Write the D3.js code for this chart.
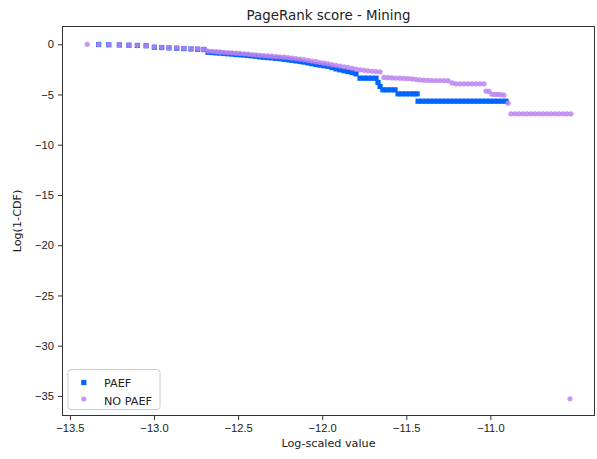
<!DOCTYPE html>
<html>
<head>
<meta charset="utf-8">
<script src="https://cdn.jsdelivr.net/npm/d3@7.9.0/dist/d3.min.js"></script>
<style>
  html, body { margin: 0; padding: 0; background: #fff; }
  svg { display: block; font-family: "DejaVu Sans", sans-serif; }
  .tick text { font-size: 11.2px; fill: #222; }
  .tick line { stroke: #333; }
</style>
</head>
<body>
<svg id="chart" width="597" height="459"></svg>
<script>
// data
const xTicks = [-13.5, -13.0, -12.5, -12.0, -11.5, -11.0];
const yTicks = [0, -5, -10, -15, -20, -25, -30, -35];

const paefX = [-13.329, -13.269, -13.206, -13.149, -13.099, -13.047, -12.998, -12.954, -12.911, -12.865, -12.822, -12.780, -12.740, -12.703,
  -12.679, -12.655, -12.631, -12.608, -12.584, -12.560, -12.536, -12.513, -12.489, -12.465,
  -12.441, -12.417, -12.394, -12.370, -12.346, -12.322, -12.299, -12.275, -12.251, -12.227,
  -12.203, -12.180, -12.156, -12.132, -12.108, -12.084, -12.061, -12.037, -12.013, -11.989,
  -11.966, -11.942, -11.918, -11.894, -11.870, -11.847, -11.823, -11.799,
  -11.775, -11.752, -11.728, -11.704, -11.680, -11.668, -11.656,
  -11.639, -11.615, -11.591, -11.567,
  -11.549, -11.526, -11.502, -11.478, -11.454, -11.436,
  -11.430, -11.407, -11.383, -11.359, -11.335, -11.311, -11.288, -11.264, -11.240, -11.216, -11.192, -11.169,
  -11.145, -11.121, -11.097, -11.074, -11.050, -11.026, -11.002, -10.978, -10.955, -10.931, -10.907];
const paefY = [-0.03, -0.05, -0.07, -0.10, -0.12, -0.15, -0.30, -0.33, -0.36, -0.40, -0.43, -0.47, -0.50, -0.53,
  -0.80, -0.83, -0.86, -0.88, -0.92, -0.95, -0.98, -1.02, -1.05, -1.08,
  -1.12, -1.16, -1.20, -1.26, -1.30, -1.33, -1.36, -1.40, -1.44, -1.50,
  -1.55, -1.60, -1.66, -1.72, -1.78, -1.86, -1.94, -2.02, -2.08, -2.14,
  -2.20, -2.32, -2.45, -2.55, -2.64, -2.72, -2.82, -2.95,
  -3.38, -3.38, -3.38, -3.38, -3.38, -3.80, -4.20,
  -4.54, -4.54, -4.54, -4.54,
  -4.94, -4.94, -4.94, -4.94, -4.94, -4.94,
  -5.67, -5.67, -5.67, -5.67, -5.67, -5.67, -5.67, -5.67, -5.67, -5.67, -5.67, -5.67,
  -5.67, -5.67, -5.67, -5.67, -5.67, -5.67, -5.67, -5.67, -5.67, -5.67, -5.67];

const noPaefX = [-13.397, -13.329, -13.269, -13.206, -13.149, -13.099, -13.047, -12.998, -12.954, -12.911, -12.865, -12.822, -12.780, -12.740, -12.703,
  -12.679, -12.655, -12.631, -12.608, -12.584, -12.560, -12.536, -12.513, -12.489, -12.465,
  -12.441, -12.417, -12.394, -12.370, -12.346, -12.322, -12.299, -12.275, -12.251, -12.227,
  -12.203, -12.180, -12.156, -12.132, -12.108, -12.084, -12.061, -12.037, -12.013, -11.989,
  -11.966, -11.942, -11.918, -11.894, -11.870, -11.847, -11.823, -11.799,
  -11.775, -11.752, -11.728, -11.704, -11.680, -11.656,
  -11.633, -11.609, -11.585, -11.561, -11.538, -11.514, -11.490, -11.466, -11.442,
  -11.419, -11.395, -11.371, -11.347, -11.323, -11.300, -11.276, -11.252,
  -11.228, -11.205, -11.181, -11.157, -11.133, -11.109, -11.086, -11.062, -11.038,
  -11.026, -11.008, -10.991, -10.973, -10.955, -10.937, -10.919, -10.895,
  -10.878, -10.854, -10.830, -10.806, -10.782, -10.759, -10.735, -10.711,
  -10.687, -10.664, -10.640, -10.616, -10.592, -10.568, -10.545, -10.521,
  -10.527];
const noPaefY = [0, -0.02, -0.04, -0.06, -0.09, -0.11, -0.14, -0.28, -0.31, -0.34, -0.37, -0.40, -0.43, -0.46, -0.49,
  -0.68, -0.71, -0.74, -0.77, -0.80, -0.83, -0.86, -0.89, -0.92, -0.95,
  -0.98, -1.02, -1.06, -1.10, -1.13, -1.16, -1.19, -1.22, -1.25, -1.29,
  -1.33, -1.38, -1.43, -1.48, -1.54, -1.60, -1.67, -1.74, -1.82, -1.89,
  -1.96, -2.03, -2.10, -2.17, -2.24, -2.31, -2.39, -2.47,
  -2.54, -2.60, -2.65, -2.69, -2.72, -2.76,
  -3.30, -3.33, -3.35, -3.37, -3.38, -3.40, -3.42, -3.45, -3.50,
  -3.55, -3.58, -3.60, -3.61, -3.61, -3.62, -3.62, -3.63,
  -3.85, -3.94, -3.94, -3.94, -3.94, -3.94, -3.94, -3.94, -3.94,
  -4.66, -4.70, -4.98, -5.00, -5.00, -5.02, -5.05, -5.87,
  -6.93, -6.93, -6.93, -6.93, -6.93, -6.93, -6.93, -6.93,
  -6.93, -6.93, -6.93, -6.93, -6.93, -6.93, -6.93, -6.93,
  -35.28];

const seriesNames = ["PAEF", "NO PAEF"];
const seriesColors = ["#0066ff", "#bd82f2"];

const svg = d3.select("#chart");
const axL = 62.5, axR = 594.5, axT = 26.5, axB = 415.5;

svg.append("rect").attr("width", 597).attr("height", 459).attr("fill", "#fff");

const x = d3.scaleLinear().domain([-13.544, -10.381]).range([axL, axR]);
const y = d3.scaleLinear().domain([1.764, -37.044]).range([axT, axB + 1]);

const fmt = d => (d < 0 ? "\u2212" : "") + Math.abs(d);

// axes
svg.append("g")
  .attr("transform", `translate(0,${axB})`)
  .call(d3.axisBottom(x).tickValues(xTicks).tickSizeOuter(0).tickSize(4.5).tickPadding(4)
    .tickFormat(d => (d < 0 ? "\u2212" : "") + Math.abs(d).toFixed(1)))
  .call(g => g.select(".domain").remove());

svg.append("g")
  .attr("transform", `translate(${axL},0)`)
  .call(d3.axisLeft(y).tickValues(yTicks).tickSizeOuter(0).tickSize(4.5).tickPadding(4).tickFormat(fmt))
  .call(g => g.select(".domain").remove());

// points
const paef = paefX.map((v, i) => [v, paefY[i]]);
const noPaef = noPaefX.map((v, i) => [v, noPaefY[i]]);

svg.append("g").selectAll("rect").data(paef).join("rect")
  .attr("x", d => x(d[0]) - 2.6)
  .attr("y", d => y(d[1]) - 2.6)
  .attr("width", 5.2).attr("height", 5.2)
  .attr("fill", seriesColors[0]);

svg.append("g").selectAll("circle").data(noPaef).join("circle")
  .attr("cx", d => x(d[0]))
  .attr("cy", d => y(d[1]))
  .attr("r", 2.6)
  .attr("fill", seriesColors[1])
  .attr("fill-opacity", 0.85);

// frame
svg.append("rect")
  .attr("x", axL).attr("y", axT)
  .attr("width", axR - axL).attr("height", axB - axT)
  .attr("fill", "none").attr("stroke", "#333").attr("stroke-width", 1);

// legend
const lg = svg.append("g").attr("transform", "translate(68,369.5)");
lg.append("rect").attr("width", 92).attr("height", 40).attr("rx", 3)
  .attr("fill", "#fff").attr("fill-opacity", 0.8).attr("stroke", "#ccc");
lg.append("rect").attr("x", 13.2).attr("y", 10.4).attr("width", 5.2).attr("height", 5.2).attr("fill", seriesColors[0]);
lg.append("circle").attr("cx", 15.8).attr("cy", 29.5).attr("r", 2.6).attr("fill", seriesColors[1]).attr("fill-opacity", 0.85);
seriesNames.forEach((n, i) => {
  lg.append("text").attr("x", 36).attr("y", 17 + i * 18.5)
    .attr("font-size", 11.2).attr("fill", "#222").text(n);
});

// titles
svg.append("text").attr("x", (axL + axR) / 2).attr("y", 19.5)
  .attr("text-anchor", "middle").attr("font-size", 13.4).attr("fill", "#222")
  .text("PageRank score - Mining");
svg.append("text").attr("x", (axL + axR) / 2).attr("y", 447)
  .attr("text-anchor", "middle").attr("font-size", 11.2).attr("fill", "#222")
  .text("Log-scaled value");
svg.append("text").attr("transform", `translate(21,${(axT + axB) / 2}) rotate(-90)`)
  .attr("text-anchor", "middle").attr("font-size", 11.2).attr("fill", "#222")
  .text("Log(1-CDF)");
</script>
</body>
</html>
